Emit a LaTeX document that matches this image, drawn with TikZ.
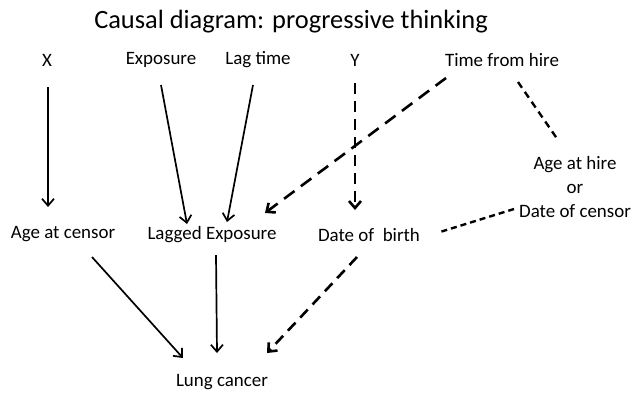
\documentclass[tikz,border=0pt]{standalone}
\usepackage{fontspec}
\setmainfont{Carlito}
\usetikzlibrary{arrows.meta,calc}
\begin{document}
\begin{tikzpicture}[x=1bp,y=-1bp,
  lab/.style={inner sep=0pt,font=\fontsize{19}{24}\selectfont},
  solidarr/.style={line width=1.7bp,-{Straight Barb[length=7bp,width=12bp,line width=1.7bp]}},
  dasharr/.style={line width=2.6bp,dash pattern=on 11bp off 7bp,-{Straight Barb[length=7bp,width=12bp,line width=2.6bp]}},
  shortdash/.style={line width=2.4bp,dash pattern=on 6bp off 4bp}]
\useasboundingbox (0,0) rectangle (631,393);
\node[inner sep=0pt,font=\fontsize{26.5}{30}\selectfont] (title) at (291,22) {Causal diagram: progressive thinking};
\node[lab] (X) at (47,60) {X};
\node[lab] (exp) at (161,60) {Exposure};
\node[lab] (lag) at (258,60) {Lag time};
\node[lab] (Y) at (355,60) {Y};
\node[lab] (tfh) at (502,60) {Time from hire};
\node[lab,align=center] (ahire) at (575,187) {Age at hire\\or\\Date of censor};
\node[lab] (agec) at (63,234) {Age at censor};
\node[lab] (lagged) at (212,235) {Lagged Exposure};
\node[lab] (dob) at (369,235) {Date of\ \ birth};
\node[lab] (lung) at (222,382) {Lung cancer};
\draw[solidarr] ($(X)+(1,27)$) -- ($(X)+(1,147)$);
\draw[solidarr] ($(exp)+(0,25)$) -- ($(lagged)+(-25,-11)$);
\draw[solidarr] ($(lag)+(-5,25)$) -- ($(lagged)+(15,-13)$);
\draw[dasharr] ($(Y)+(0,23)$) -- ($(dob)+(-14,-25)$);
\draw[dasharr,dash pattern=on 13bp off 8bp] ($(tfh)+(-56,18)$) -- ($(lagged)+(53,-22)$);
\draw[shortdash,dash pattern=on 7bp off 5bp] ($(tfh)+(16,22)$) -- ($(ahire)+(-17,-47)$);
\draw[shortdash] ($(ahire)+(-61,22)$) -- ($(dob)+(71,-3)$);
\draw[solidarr] ($(agec)+(29,23)$) -- ($(lung)+(-39,-24)$);
\draw[solidarr] ($(lagged)+(4,20)$) -- ($(lung)+(-5,-29)$);
\draw[dasharr] ($(dob)+(-12,22)$) -- ($(lung)+(45,-29)$);
\end{tikzpicture}
\end{document}
